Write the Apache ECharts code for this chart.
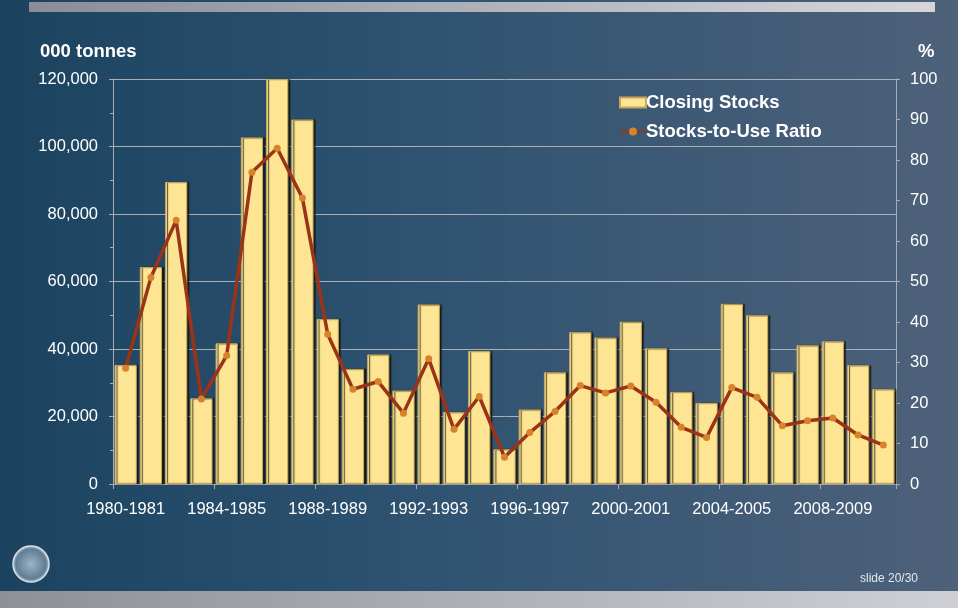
<!DOCTYPE html>
<html>
<head>
<meta charset="utf-8">
<script src="https://cdn.jsdelivr.net/npm/echarts@6/dist/echarts.min.js"></script>
<style>
html,body{margin:0;padding:0;background:#2a4d6b;}
#c{width:958px;height:608px;}
</style>
</head>
<body>
<div id="c"></div>
<script>
const categories = ['1980-1981','1981-1982','1982-1983','1983-1984','1984-1985','1985-1986','1986-1987','1987-1988','1988-1989','1989-1990','1990-1991','1991-1992','1992-1993','1993-1994','1994-1995','1995-1996','1996-1997','1997-1998','1998-1999','1999-2000','2000-2001','2001-2002','2002-2003','2003-2004','2004-2005','2005-2006','2006-2007','2007-2008','2008-2009','2009-2010','2010-2011'];
const closingStocks = [35300,64300,89500,25400,41700,102700,120000,108000,48900,34100,38400,27700,53200,21300,39400,10300,22100,33100,45000,43400,48100,40200,27300,24000,53400,50000,33100,41100,42300,35200,28100];
const stocksToUse = [28.6,51.0,65.1,21.0,31.7,77.0,82.9,70.6,37.0,23.4,25.3,17.5,30.9,13.5,21.6,6.6,12.7,17.9,24.3,22.5,24.2,20.2,14.0,11.5,23.8,21.4,14.4,15.6,16.3,12.1,9.6];
const leftTicks = [0,20000,40000,60000,80000,100000,120000];
const rightTicks = [0,10,20,30,40,50,60,70,80,90,100];

const chart = echarts.init(document.getElementById('c'));
const font = 'Liberation Sans, Arial, Helvetica, sans-serif';
const fmt = v => v.toLocaleString('en-US');

chart.setOption({
  animation: false,
  backgroundColor: {
    type: 'linear', x: 0, y: 0, x2: 1, y2: 0,
    colorStops: [
      {offset: 0, color: '#1b435f'},
      {offset: 0.45, color: '#2f5371'},
      {offset: 1, color: '#4e617a'}
    ]
  },
  graphic: [
    {type: 'rect', left: 29, top: 2, shape: {width: 906, height: 10},
     style: {fill: {type: 'linear', x: 0, y: 0, x2: 1, y2: 0,
       colorStops: [{offset: 0, color: '#8a8d97'}, {offset: 1, color: '#d6d6da'}]}}},
    {type: 'rect', left: 0, top: 591, shape: {width: 958, height: 17},
     style: {fill: {type: 'linear', x: 0, y: 0, x2: 1, y2: 0,
       colorStops: [{offset: 0, color: '#8e9098'}, {offset: 1, color: '#cfd0d5'}]}}},
    {type: 'circle', shape: {cx: 31, cy: 564, r: 18},
     style: {fill: {type: 'radial', x: 0.5, y: 0.5, r: 0.5,
       colorStops: [{offset: 0, color: '#9fb3c4'}, {offset: 0.8, color: '#5f7d96'}, {offset: 1, color: '#c8d4de'}]},
       stroke: '#d5dee6', lineWidth: 1.5}},
    {type: 'text', left: 40, top: 42, style: {text: '000 tonnes', fill: '#ffffff', font: 'bold 18.5px ' + font}},
    {type: 'text', left: 918, top: 42, style: {text: '%', fill: '#ffffff', font: 'bold 18.5px ' + font}},
    {type: 'text', left: 860, top: 573, style: {text: 'slide 20/30', fill: '#e4e8ee', font: '12px ' + font}}
  ],
  legend: {
    orient: 'vertical',
    left: 614, top: 88,
    itemWidth: 26, itemHeight: 10, itemGap: 10,
    textStyle: {color: '#ffffff', fontFamily: font, fontWeight: 'bold', fontSize: 18.5, padding: [0,0,0,-5]},
    data: [
      {name: 'Closing Stocks', icon: 'rect'},
      {name: 'Stocks-to-Use Ratio'}
    ]
  },
  grid: {left: 113, right: 62, top: 79, bottom: 124},
  xAxis: {
    type: 'category',
    data: categories,
    axisLine: {show: true, lineStyle: {color: '#a7adb5', width: 1}},
    axisTick: {show: true, length: 5, lineStyle: {color: '#a7adb5'}},
    axisLabel: {interval: 3, color: '#ffffff', fontFamily: font, fontSize: 16.5, margin: 17}
  },
  yAxis: [
    {
      type: 'value', min: 0, max: 120000, interval: 20000, position: 'left',
      axisLine: {show: true, lineStyle: {color: '#a7adb5'}},
      axisTick: {show: true, length: 4, lineStyle: {color: '#a7adb5'}},
      minorTick: {show: true, splitNumber: 2, length: 3, lineStyle: {color: '#a7adb5'}},
      splitLine: {show: true, lineStyle: {color: '#a9b0b8', width: 1}},
      axisLabel: {color: '#ffffff', fontFamily: font, fontSize: 16.5, margin: 15, formatter: fmt}
    },
    {
      type: 'value', min: 0, max: 100, interval: 10, position: 'right',
      axisLine: {show: true, lineStyle: {color: '#a7adb5'}},
      axisTick: {show: true, length: 4, lineStyle: {color: '#a7adb5'}},
      splitLine: {show: false},
      axisLabel: {color: '#ffffff', fontFamily: font, fontSize: 16.5, margin: 14}
    }
  ],
  series: [
    {
      name: 'Closing Stocks', type: 'bar', yAxisIndex: 0,
      data: closingStocks,
      barCategoryGap: '12%',
      itemStyle: {color: '#fde594', borderColor: '#c8a55c', borderWidth: 1,
        shadowColor: 'rgba(20,20,10,0.8)', shadowBlur: 1, shadowOffsetX: 2, shadowOffsetY: 0}
    },
    {
      name: 'Stocks-to-Use Ratio', type: 'line', yAxisIndex: 1,
      data: stocksToUse,
      symbol: 'circle', symbolSize: 7,
      lineStyle: {color: '#9b3317', width: 3.5},
      itemStyle: {color: '#d8822c', borderColor: '#c06a25', borderWidth: 0}
    }
  ]
});
</script>
</body>
</html>
